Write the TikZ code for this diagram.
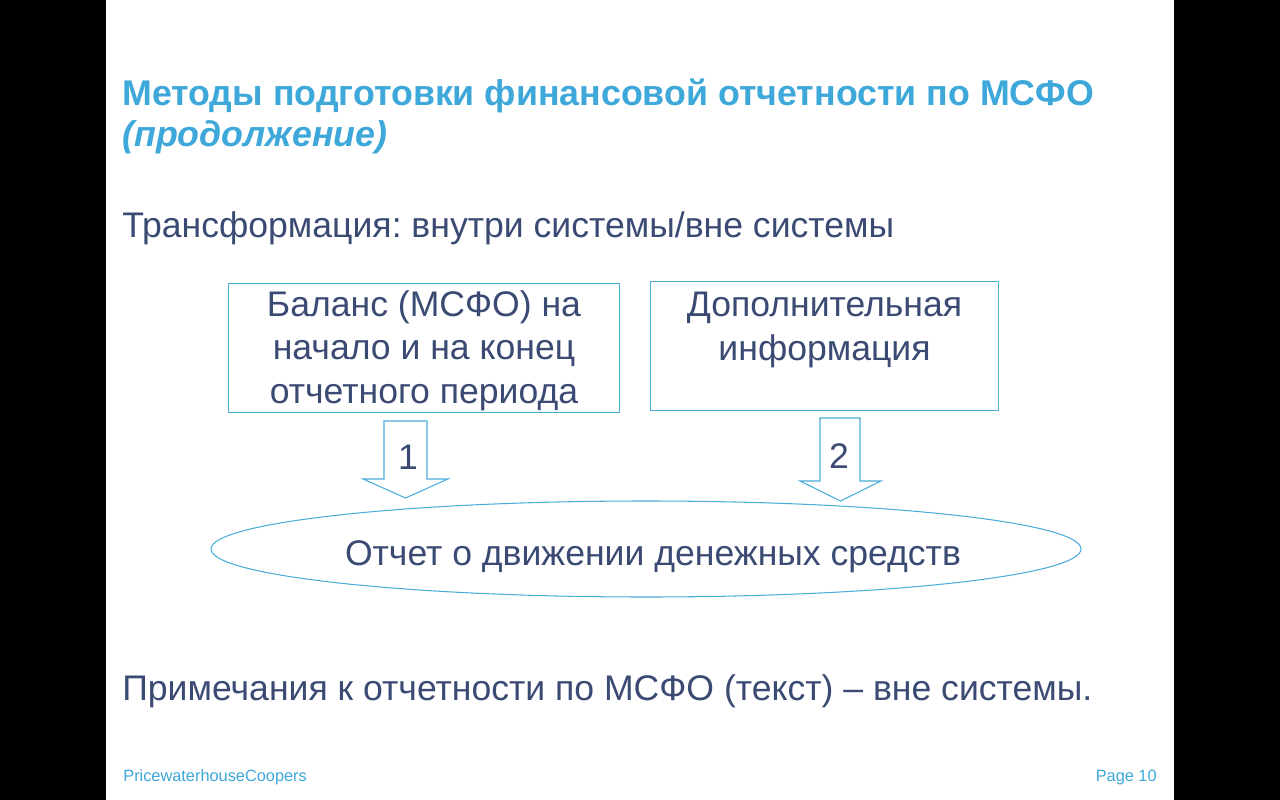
\documentclass[tikz,border=0pt]{standalone}
\usepackage{fontspec}
\setmainfont{Liberation Sans}
\usetikzlibrary{shapes.geometric, positioning, calc}
\definecolor{SlideBlue}{HTML}{3DA8D9}
\definecolor{LineBlue}{HTML}{4AADDA}
\definecolor{InkNavy}{HTML}{3B4A73}
\frenchspacing

\tikzset{
    bodytext/.style={text=InkNavy, font=\fontsize{20.25}{24.5}\selectfont, inner sep=0pt},
    framebox/.style={draw=LineBlue, line width=0.6pt, rectangle, inner sep=0pt},
    blockarrow/.style={draw=LineBlue, line width=0.6pt, fill=white, line join=miter},
}

\begin{document}
\begin{tikzpicture}[x=0.02cm, y=-0.02cm]
\useasboundingbox (0,0) rectangle (1280,800);
\fill[black] (0,0) rectangle (1280,800);
\fill[white] (106,0) rectangle (1174,800);

% title
\node[anchor=base west, inner sep=0pt, text=SlideBlue, font=\fontsize{20.35}{24}\bfseries] (title) at (122,106)
    {Методы подготовки финансовой отчетности по МСФО};
\node[anchor=base west, inner sep=0pt, text=SlideBlue, font=\fontsize{20.35}{24}\bfseries\itshape] (subtitle) at (122,147)
    {(продолжение)};

\node[bodytext, anchor=base west] (transform) at (122,238)
    {Трансформация: внутри системы/вне системы};

% source boxes
\node[framebox, anchor=north west, minimum width=391*0.02cm, minimum height=129*0.02cm] (balance) at (228,283) {};
\node[bodytext, align=center, anchor=base] (balancetext) at ($(balance.north)+(0,120)$)
    {Баланс (МСФО) на\\начало и на конец\\отчетного периода};
\node[framebox, anchor=north west, minimum width=348*0.02cm, minimum height=129*0.02cm] (extra) at (650,281) {};
\node[bodytext, align=center, anchor=base] (extratext) at ($(extra.north)+(0,79)$)
    {Дополнительная\\информация};

% target
\node[draw=LineBlue, line width=0.6pt, ellipse, minimum width=870*0.02cm, minimum height=96*0.02cm, inner sep=0pt] (cashflow) at (646,549) {};
\node[bodytext, anchor=base] (cashflowtext) at (653,565) {Отчет о движении денежных средств};

% block arrows
\draw[blockarrow] (384,421) -- (427,421) -- (427,479) -- (448,479) -- (405.5,498)
    -- (363,479) -- (384,479) -- cycle;
\draw[blockarrow] (820,418) -- (860,418) -- (860,481) -- (881,481) -- (840.5,501)
    -- (800,481) -- (820,481) -- cycle;
\node[bodytext] (step1) at (408,457) {1};
\node[bodytext] (step2) at (839,456) {2};

\node[bodytext, anchor=base west] (notes) at (122,700)
    {Примечания к отчетности по МСФО (текст) – вне системы.};

% footer
\node[anchor=base west, inner sep=0pt, text=SlideBlue, font=\fontsize{9.3}{11}\selectfont] (firm) at (123,781)
    {PricewaterhouseCoopers};
\node[anchor=base east, inner sep=0pt, text=SlideBlue, font=\fontsize{9.3}{11}\selectfont] (page) at (1157,781)
    {Page 10};
\end{tikzpicture}
\end{document}
